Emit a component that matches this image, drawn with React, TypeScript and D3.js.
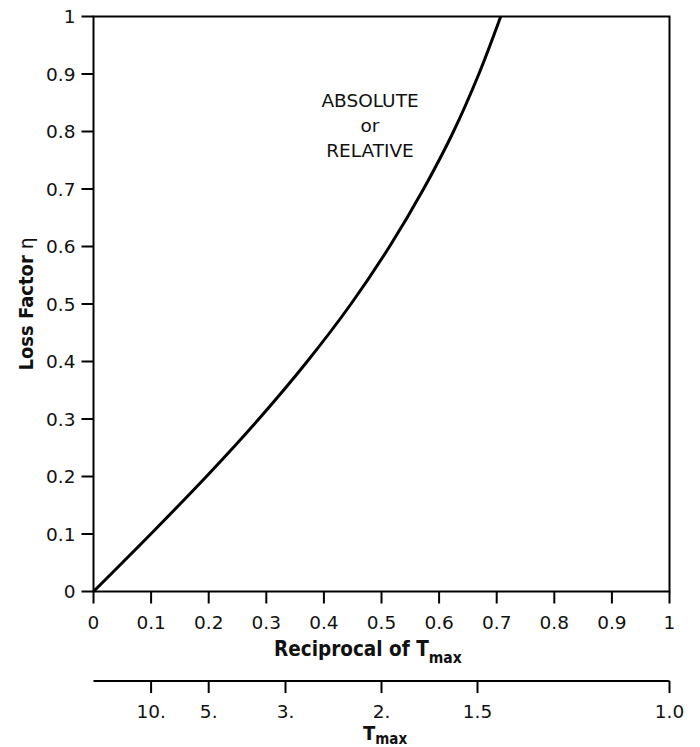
import React from "react";
import * as d3 from "d3";

// Loss factor η against the reciprocal of the peak transmissibility
const lossFactor = [0, 0.05, 0.1, 0.2, 0.3, 0.4, 0.5, 0.6, 0.7, 0.8, 0.9, 1.0];
const reciprocalTmax = [0, 0.05, 0.0995, 0.196, 0.287, 0.371, 0.447, 0.514, 0.573, 0.625, 0.669, 0.707];

const xTicks = [0, 0.1, 0.2, 0.3, 0.4, 0.5, 0.6, 0.7, 0.8, 0.9, 1];
const yTicks = [0, 0.1, 0.2, 0.3, 0.4, 0.5, 0.6, 0.7, 0.8, 0.9, 1];
const tmaxValues = [10, 5, 3, 2, 1.5, 1.0];
const tmaxLabels = ["10.", "5.", "3.", "2.", "1.5", "1.0"];
const noteLines = ["ABSOLUTE", "or", "RELATIVE"];

const W = 700;
const H = 747;
const left = 93.5;
const right = 669.5;
const top = 16.5;
const bottom = 591.5;
const tmaxAxisY = 681;
const font = "'DejaVu Sans', Verdana, sans-serif";
const titleFont = "'DejaVu Sans Condensed', 'DejaVu Sans', sans-serif";
const ink = "#111";

export default function App() {
  const x = d3.scaleLinear().domain([0, 1]).range([left, right]);
  const y = d3.scaleLinear().domain([0, 1]).range([bottom, top]);
  const pts: [number, number][] = reciprocalTmax.map((r, i) => [r, lossFactor[i]]);
  const line = d3
    .line<[number, number]>()
    .x((d) => x(d[0]))
    .y((d) => y(d[1]))
    .curve(d3.curveCatmullRom);

  return (
    <svg
      width={W}
      height={H}
      style={{ position: "absolute", left: 0, top: 0, background: "#fff" }}
      fontFamily={font}
    >
      {/* plot frame */}
      <rect x={left} y={top} width={right - left} height={bottom - top} fill="none" stroke="#000" strokeWidth={2} />

      {/* y axis */}
      {yTicks.map((t) => (
        <g key={"y" + t}>
          <line x1={left - 12} x2={left} y1={y(t)} y2={y(t)} stroke="#000" strokeWidth={2} />
          <text x={left - 18} y={y(t)} dy="0.36em" textAnchor="end" fontSize={18.5} fill={ink}>
            {String(t)}
          </text>
        </g>
      ))}

      {/* x axis */}
      {xTicks.map((t) => (
        <g key={"x" + t}>
          <line x1={x(t)} x2={x(t)} y1={bottom} y2={bottom + 12} stroke="#000" strokeWidth={2} />
          <text x={x(t)} y={629} textAnchor="middle" fontSize={18.5} fill={ink}>
            {String(t)}
          </text>
        </g>
      ))}

      {/* axis titles */}
      <text x={274} y={656} fontSize={20.5} fontWeight="bold" fill={ink} fontFamily={titleFont}>
        Reciprocal of T
        <tspan fontSize={15.5} dy={7}>max</tspan>
      </text>
      <text
        transform={`translate(33, ${(top + bottom) / 2}) rotate(-90)`}
        textAnchor="middle"
        fontSize={20}
        fontWeight="bold"
        fill={ink}
        fontFamily={titleFont}
      >
        Loss Factor <tspan fontWeight="normal">η</tspan>
      </text>

      {/* secondary T_max scale */}
      <line x1={left} x2={right} y1={tmaxAxisY} y2={tmaxAxisY} stroke="#000" strokeWidth={2} />
      {tmaxValues.map((v, i) => (
        <g key={"t" + v}>
          <line x1={x(1 / v)} x2={x(1 / v)} y1={tmaxAxisY} y2={tmaxAxisY + 12} stroke="#000" strokeWidth={2} />
          <text x={x(1 / v)} y={718} textAnchor="middle" fontSize={18.5} fill={ink}>
            {tmaxLabels[i]}
          </text>
        </g>
      ))}
      <text x={363} y={740} fontSize={20} fontWeight="bold" fill={ink} fontFamily={titleFont}>
        T<tspan fontSize={15} dy={4}>max</tspan>
      </text>

      {/* curve */}
      <path d={line(pts) || ""} fill="none" stroke="#000" strokeWidth={3} />

      {/* annotation */}
      {noteLines.map((s, i) => (
        <text key={s} x={370} y={107 + i * 25} textAnchor="middle" fontSize={18.5} fill={ink}>
          {s}
        </text>
      ))}
    </svg>
  );
}
